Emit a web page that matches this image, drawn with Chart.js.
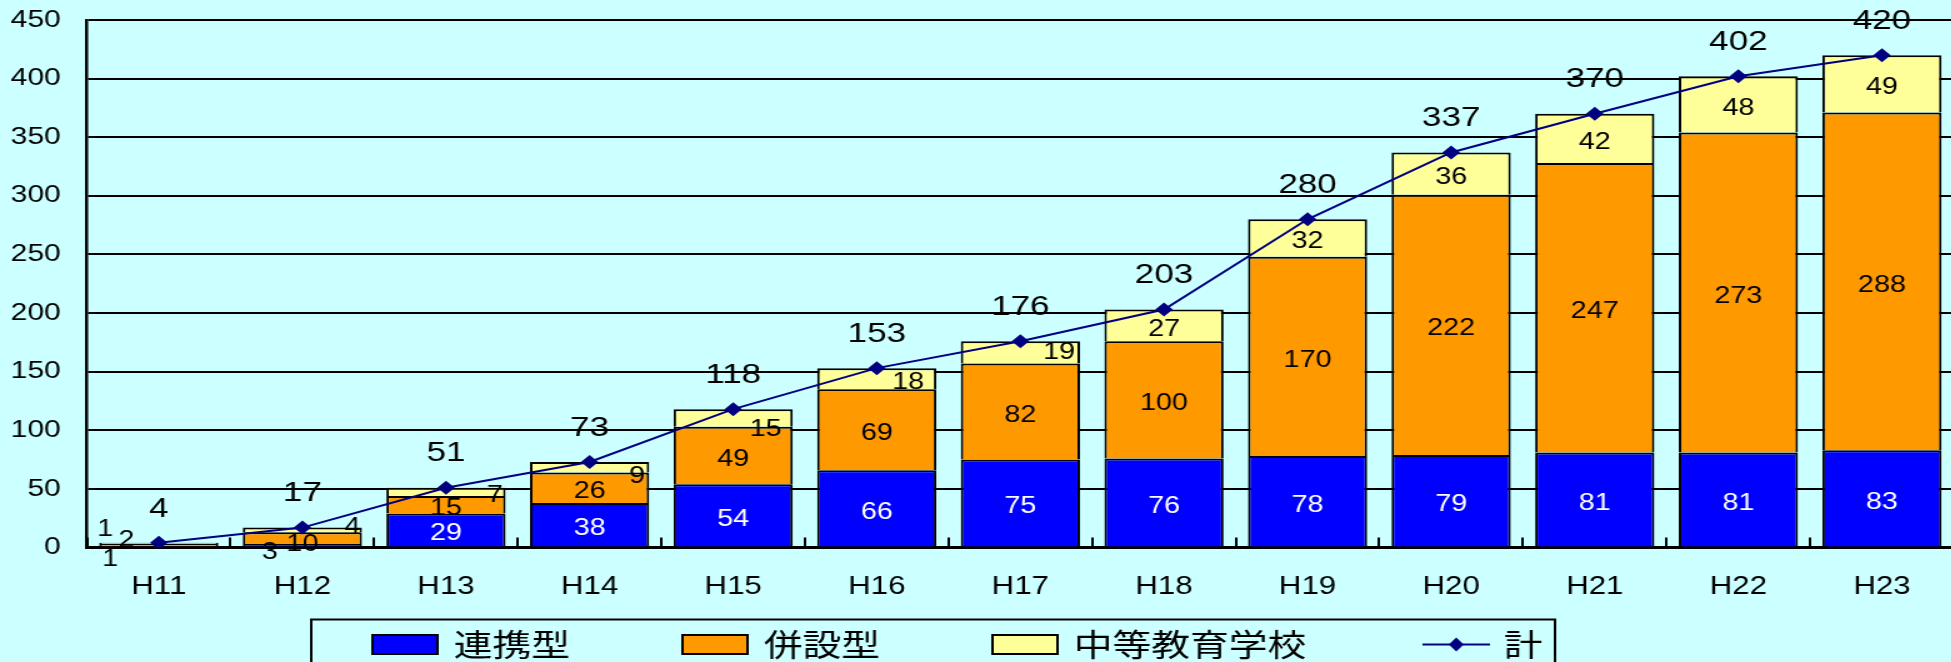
<!DOCTYPE html>
<html lang="ja">
<head>
<meta charset="utf-8">
<title>中高一貫教育校の設置数</title>
<script src="https://cdn.jsdelivr.net/npm/chart.js@4.4.1/dist/chart.umd.min.js"></script>
<style>
  html, body { margin: 0; padding: 0; background: #ccffff; overflow: hidden; }
  /* the chart is drawn narrow and stretched sideways, like the old Excel export */
  #wrap { width: 1570px; height: 662px; transform: scaleX(1.25); transform-origin: 0 0; }
</style>
</head>
<body>
<div id="wrap"><canvas id="chart" width="1570" height="662"></canvas></div>
<script>
// Setup Block
const years = ['H11', 'H12', 'H13', 'H14', 'H15', 'H16', 'H17', 'H18', 'H19', 'H20', 'H21', 'H22', 'H23'];
const renkei = [1, 3, 29, 38, 54, 66, 75, 76, 78, 79, 81, 81, 83];          // 連携型
const heisetsu = [2, 10, 15, 26, 49, 69, 82, 100, 170, 222, 247, 273, 288]; // 併設型
const chuto = [1, 4, 7, 9, 15, 18, 19, 27, 32, 36, 42, 48, 49];              // 中等教育学校
const total = [4, 17, 51, 73, 118, 153, 176, 203, 280, 337, 370, 402, 420];  // 計
const yTicks = [0, 50, 100, 150, 200, 250, 300, 350, 400, 450];

const numFont = '"Liberation Sans", Arial, sans-serif';
const jpFont = '"Noto Sans CJK JP", sans-serif';

// labels on the thin segments were dragged aside, offsets from the segment centre
const labelNudge = {
  '0-0': { dx: -39, dy: 9, color: '#000' },
  '1-0': { dx: -26, dy: -8 },
  '2-0': { dx: -43, dy: -18 },
  '0-1': { dx: -26, dy: 3, color: '#000' },
  '1-1': { dx: 0, dy: 3 },
  '2-1': { dx: 40, dy: -6 },
  '2-2': { dx: 39, dy: 0 },
  '2-3': { dx: 38, dy: 5 },
  '2-4': { dx: 26, dy: 8 },
  '2-5': { dx: 25, dy: 0 },
  '2-6': { dx: 31, dy: -4 }
};

const valueLabels = {
  id: 'valueLabels',
  afterDatasetsDraw(chart) {
    const ctx = chart.ctx;
    ctx.save();
    ctx.textAlign = 'center';
    ctx.textBaseline = 'middle';
    chart.data.datasets.forEach((ds, di) => {
      const meta = chart.getDatasetMeta(di);
      meta.data.forEach((el, i) => {
        const v = ds.data[i];
        if (ds.type === 'line') {
          ctx.font = '28px ' + numFont;
          ctx.fillStyle = '#000';
          ctx.fillText(String(v), el.x, el.y - 34);
          return;
        }
        const p = el.getProps(['x', 'y', 'base'], true);
        const n = labelNudge[di + '-' + i] || { dx: 0, dy: 0 };
        ctx.font = '23px ' + numFont;
        ctx.fillStyle = n.color || (di === 0 ? '#fff' : '#000');
        // digits sit a little high on 'middle', so push them down a touch
        ctx.fillText(String(v), p.x + n.dx, (p.y + p.base) / 2 + n.dy + 4);
      });
    });
    ctx.restore();
  }
};

const legendBox = {
  id: 'legendBox',
  afterDraw(chart) {
    const ctx = chart.ctx;
    const cy = 644.5;
    ctx.save();
    ctx.lineWidth = 2;
    ctx.strokeStyle = '#000';
    ctx.strokeRect(249, 619.5, 995, 60);
    ctx.font = '31px ' + jpFont;
    ctx.textBaseline = 'middle';
    ctx.textAlign = 'left';
    let x = 298;
    chart.data.datasets.forEach(ds => {
      if (ds.type === 'line') {
        x += 3;
        ctx.strokeStyle = ds.borderColor;
        ctx.lineWidth = 2;
        ctx.beginPath();
        ctx.moveTo(x, cy);
        ctx.lineTo(x + 54, cy);
        ctx.stroke();
        ctx.fillStyle = ds.borderColor;
        ctx.beginPath();
        ctx.moveTo(x + 27, cy - 7);
        ctx.lineTo(x + 33, cy);
        ctx.lineTo(x + 27, cy + 7);
        ctx.lineTo(x + 21, cy);
        ctx.closePath();
        ctx.fill();
        x += 65;
      } else {
        ctx.fillStyle = ds.backgroundColor;
        ctx.fillRect(x, cy - 9.5, 52, 19);
        ctx.strokeStyle = '#000';
        ctx.lineWidth = 2;
        ctx.strokeRect(x, cy - 9.5, 52, 19);
        x += 65;
      }
      ctx.fillStyle = '#000';
      ctx.fillText(ds.label, x, cy);
      x += ctx.measureText(ds.label).width + 90;
    });
    ctx.restore();
  }
};

const barStyle = { stack: 'parts', borderColor: '#000', borderWidth: 2, order: 1,
  barPercentage: 0.83, categoryPercentage: 1 };

const data = {
  labels: years,
  datasets: [
    Object.assign({ label: '連携型', data: renkei, backgroundColor: '#0000ff' }, barStyle),
    Object.assign({ label: '併設型', data: heisetsu, backgroundColor: '#ff9900' }, barStyle),
    Object.assign({ label: '中等教育学校', data: chuto, backgroundColor: '#ffff99' }, barStyle),
    {
      type: 'line',
      label: '計',
      data: total,
      stack: 'sum',
      order: 0,
      borderColor: '#000080',
      backgroundColor: '#000080',
      borderWidth: 2,
      tension: 0,
      pointStyle: 'rectRot',
      pointRadius: 7,
      pointBackgroundColor: '#000080',
      pointBorderColor: '#000080',
      pointBorderWidth: 0
    }
  ]
};

// Config Block
const config = {
  type: 'bar',
  data: data,
  options: {
    responsive: false,
    animation: false,
    layout: { padding: { top: 20, left: 0, right: 0, bottom: 0 } },
    plugins: {
      legend: { display: false },
      tooltip: { enabled: false }
    },
    scales: {
      x: {
        stacked: true,
        offset: true,
        border: { color: '#000', width: 3 },
        grid: { drawOnChartArea: false, color: '#000', lineWidth: 2, tickLength: -10, offset: true },
        ticks: { color: '#000', padding: 35, font: { family: numFont, size: 25 } },
        afterFit(scale) {
          scale.height = 114.5;
          scale.paddingLeft = 0;
          scale.paddingRight = 0;
        }
      },
      y: {
        stacked: true,
        min: 0,
        max: 450,
        afterBuildTicks(scale) { scale.ticks = yTicks.map(v => ({ value: v })); },
        border: { color: '#000', width: 2.5 },
        grid: { color: '#000', lineWidth: 2, drawTicks: false },
        ticks: { color: '#000', padding: 21, font: { family: numFont, size: 24 } },
        afterFit(scale) {
          scale.width = 69.6;
          scale.paddingTop = 0;
          scale.paddingBottom = 0;
        }
      }
    }
  },
  plugins: [valueLabels, legendBox]
};

// Render Block
const chart = new Chart(document.getElementById('chart'), config);
</script>
</body>
</html>
